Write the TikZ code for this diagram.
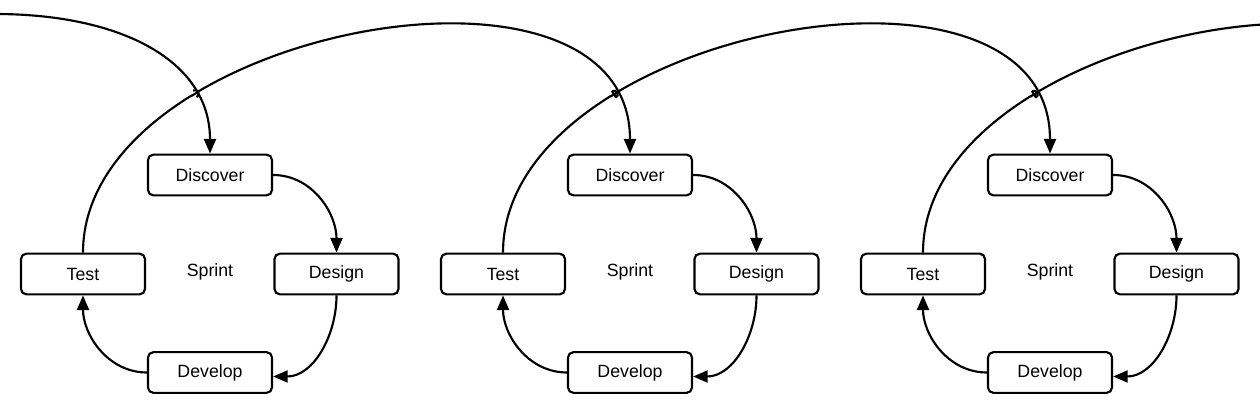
\documentclass[tikz,border=0pt]{standalone}
\usepackage{fontspec}
\setmainfont{Liberation Sans}
\usetikzlibrary{arrows.meta,calc,intersections}
\begin{document}
\begin{tikzpicture}[x=0.75pt,y=-0.75pt,
  box/.style={draw,line width=1.6pt,rounded corners=4pt,minimum width=93pt,minimum height=30.5pt,inner sep=0pt,font=\fontsize{13.3}{15}\selectfont},
  lbl/.style={font=\fontsize{13.3}{15}\selectfont},
  wire/.style={line width=1.6pt},
  conn/.style={wire,-{Triangle[length=11pt,width=9pt]}},
  hop/.style={wire}]
\useasboundingbox (0,0) rectangle (1260,417);
\begin{scope}
\clip (0,0) rectangle (1260,417);
\foreach \k in {0,1,2} {
  \node[box] (d\k) at (210+420*\k,175) {Discover};
  \node[box] (g\k) at (336.5+420*\k,274) {Design};
  \node[box] (t\k) at (83+420*\k,274) {Test};
  \node[box] (v\k) at (210+420*\k,372.5) {Develop};
  \node[lbl] (s\k) at (210+420*\k,272) {Sprint};
  \draw[conn] (d\k.east) to[out=0,in=90] (g\k.north);
  \draw[conn] (g\k.south) to[out=-90,in=0] ($(v\k.east)+(0,4)$);
  \draw[conn] (v\k.west) to[out=180,in=-90] (t\k.south);
}
\coordinate (src) at (-5,14);
\coordinate (dx) at (1470,154);
\draw[conn,name path=a0] (src) .. controls (120,14) and (210,60) .. (d0.north);
\draw[conn,name path=a1] (t0.north) .. controls +(0,-223) and +(0,-226) .. (d1.north);
\draw[conn,name path=a2] (t1.north) .. controls +(0,-223) and +(0,-226) .. (d2.north);
\draw[conn,name path=a3] (t2.north) .. controls +(0,-223) and +(0,-226) .. (dx);
\path[name intersections={of=a0 and a1,by=x1}];
\path[name intersections={of=a1 and a2,by=x2}];
\path[name intersections={of=a2 and a3,by=x3}];
\fill[white] (x1) circle (2.8pt) (x2) circle (2.8pt) (x3) circle (2.8pt);
\begin{scope}
\clip (x1) circle (3.2pt) (x2) circle (3.2pt) (x3) circle (3.2pt);
\draw[wire] (t0.north) .. controls +(0,-223) and +(0,-226) .. (d1.north);
\draw[wire] (t1.north) .. controls +(0,-223) and +(0,-226) .. (d2.north);
\draw[wire] (t2.north) .. controls +(0,-223) and +(0,-226) .. (dx);
\end{scope}
\foreach \p in {x1,x2,x3}
  \draw[hop] ($(\p)+(118:2.8pt)$) arc[start angle=118,end angle=-62,radius=2.8pt];
\end{scope}
\end{tikzpicture}
\end{document}
